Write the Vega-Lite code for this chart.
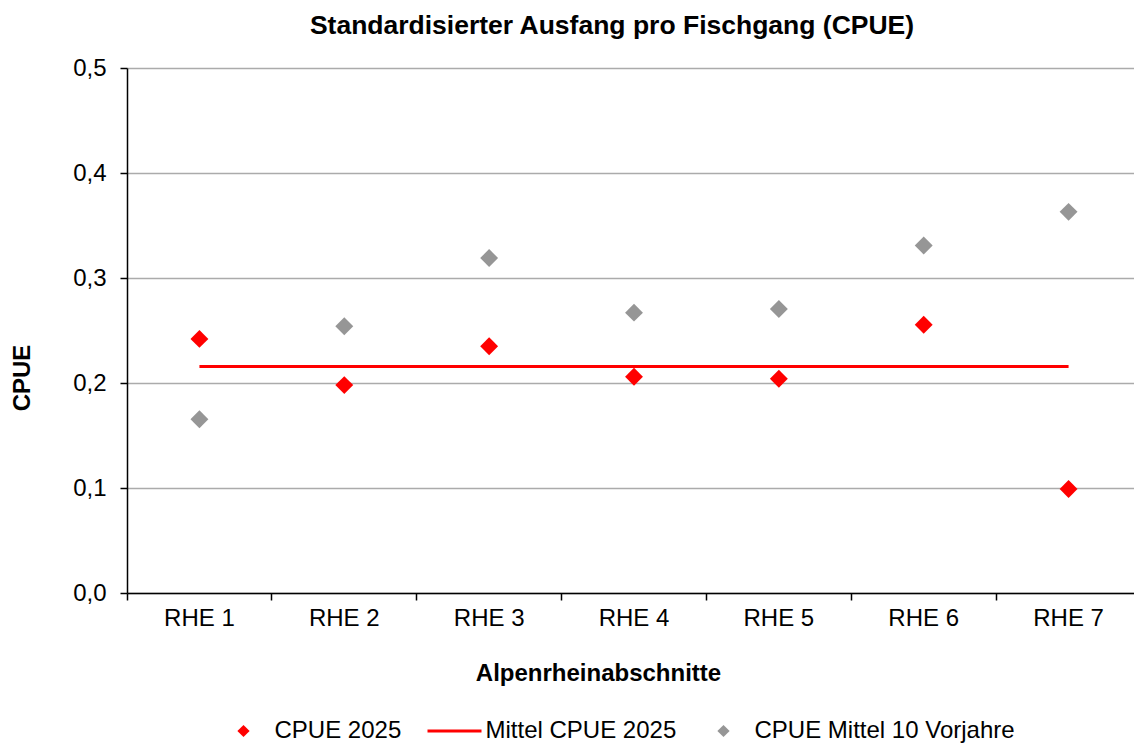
{
  "$schema": "https://vega.github.io/schema/vega-lite/v6.json",
  "width": 1014,
  "height": 525,
  "autosize": {"type": "none"},
  "padding": {"left": 127, "top": 68, "right": 0, "bottom": 152},
  "background": "white",
  "title": {
    "text": "Standardisierter Ausfang pro Fischgang (CPUE)",
    "font": "Liberation Sans",
    "fontSize": 26.5,
    "fontWeight": "bold",
    "color": "black",
    "anchor": "middle",
    "frame": "group",
    "baseline": "alphabetic",
    "dx": -22,
    "offset": -4
  },
  "config": {
    "view": {"stroke": null},
    "font": "Liberation Sans"
  },
  "data": {
    "values": [
      {"abschnitt": "RHE 1", "serie": "CPUE 2025", "cpue": 0.242},
      {"abschnitt": "RHE 2", "serie": "CPUE 2025", "cpue": 0.198},
      {"abschnitt": "RHE 3", "serie": "CPUE 2025", "cpue": 0.235},
      {"abschnitt": "RHE 4", "serie": "CPUE 2025", "cpue": 0.206},
      {"abschnitt": "RHE 5", "serie": "CPUE 2025", "cpue": 0.204},
      {"abschnitt": "RHE 6", "serie": "CPUE 2025", "cpue": 0.2555},
      {"abschnitt": "RHE 7", "serie": "CPUE 2025", "cpue": 0.099},
      {"abschnitt": "RHE 1", "serie": "CPUE Mittel 10 Vorjahre", "cpue": 0.1655},
      {"abschnitt": "RHE 2", "serie": "CPUE Mittel 10 Vorjahre", "cpue": 0.254},
      {"abschnitt": "RHE 3", "serie": "CPUE Mittel 10 Vorjahre", "cpue": 0.319},
      {"abschnitt": "RHE 4", "serie": "CPUE Mittel 10 Vorjahre", "cpue": 0.267},
      {"abschnitt": "RHE 5", "serie": "CPUE Mittel 10 Vorjahre", "cpue": 0.2705},
      {"abschnitt": "RHE 6", "serie": "CPUE Mittel 10 Vorjahre", "cpue": 0.331},
      {"abschnitt": "RHE 7", "serie": "CPUE Mittel 10 Vorjahre", "cpue": 0.363},
      {"abschnitt": "RHE 1", "serie": "Mittel CPUE 2025", "cpue": 0.2158},
      {"abschnitt": "RHE 7", "serie": "Mittel CPUE 2025", "cpue": 0.2158}
    ]
  },
  "encoding": {
    "x": {
      "field": "abschnitt",
      "type": "nominal",
      "sort": ["RHE 1", "RHE 2", "RHE 3", "RHE 4", "RHE 5", "RHE 6", "RHE 7"],
      "scale": {"type": "band", "paddingInner": 0, "paddingOuter": 0},
      "axis": {
        "title": "Alpenrheinabschnitte",
        "titleFont": "Liberation Sans",
        "titleFontSize": 24,
        "titleFontWeight": "bold",
        "titleColor": "black",
        "titleX": 471,
        "titleY": 80,
        "titleBaseline": "middle",
        "titleAlign": "center",
        "labelFont": "Liberation Sans",
        "labelFontSize": 24,
        "labelColor": "black",
        "labelAngle": 0,
        "labelPadding": 6,
        "bandPosition": 0,
        "domainColor": "black",
        "domainWidth": 1.5,
        "tickColor": "black",
        "tickWidth": 1.5,
        "tickSize": 7,
        "grid": false
      }
    },
    "y": {
      "field": "cpue",
      "type": "quantitative",
      "scale": {"domain": [0, 0.5], "nice": false, "zero": true},
      "axis": {
        "title": "CPUE",
        "titleFont": "Liberation Sans",
        "titleFontSize": 24,
        "titleFontWeight": "bold",
        "titleColor": "black",
        "titleAngle": -90,
        "titleX": -105,
        "titleY": 309.5,
        "titleAlign": "center",
        "titleBaseline": "middle",
        "values": [0, 0.1, 0.2, 0.3, 0.4, 0.5],
        "labelExpr": "replace(format(datum.value, '.1f'), '.', ',')",
        "labelFont": "Liberation Sans",
        "labelFontSize": 24,
        "labelColor": "black",
        "labelPadding": 14,
        "domainColor": "black",
        "domainWidth": 1.5,
        "tickColor": "black",
        "tickWidth": 1.5,
        "tickSize": 7,
        "grid": true,
        "gridColor": "#ababab",
        "gridWidth": 1.3
      }
    },
    "color": {
      "field": "serie",
      "type": "nominal",
      "scale": {
        "domain": ["CPUE 2025", "Mittel CPUE 2025", "CPUE Mittel 10 Vorjahre"],
        "range": ["#ff0000", "#ff0000", "#969696"]
      },
      "legend": {
        "title": null,
        "orient": "none",
        "legendX": 89.5,
        "legendY": 651,
        "direction": "horizontal",
        "columns": 3,
        "padding": 0,
        "labelFont": "Liberation Sans",
        "labelFontSize": 24,
        "labelColor": "black",
        "labelLimit": 500,
        "labelOffset": 4,
        "columnPadding": 20,
        "symbolSize": 2916,
        "symbolOpacity": 1,
        "encode": {
          "symbols": {
            "update": {
              "x": {"value": 27},
              "shape": {"signal": "datum.value === 'Mittel CPUE 2025' ? 'stroke' : 'diamond'"},
              "size": {"signal": "datum.value === 'Mittel CPUE 2025' ? 2916 : 150"},
              "fill": {"scale": "color", "field": "value"},
              "stroke": {"scale": "color", "field": "value"},
              "strokeWidth": {"signal": "datum.value === 'Mittel CPUE 2025' ? 3 : 0"},
              "opacity": {"value": 1}
            }
          },
          "labels": {
            "update": {
              "x": {"value": 58}
            }
          }
        }
      }
    }
  },
  "layer": [
    {
      "transform": [{"filter": "datum.serie === 'Mittel CPUE 2025'"}],
      "mark": {"type": "line", "strokeWidth": 3}
    },
    {
      "transform": [{"filter": "datum.serie !== 'Mittel CPUE 2025'"}],
      "mark": {"type": "point", "shape": "diamond", "filled": true, "size": 320, "opacity": 1}
    }
  ]
}
